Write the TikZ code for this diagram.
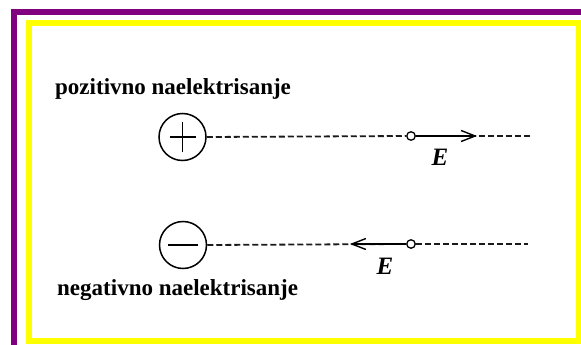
\documentclass[tikz,border=0pt]{standalone}
\usepackage{fontspec}
\setmainfont{Liberation Serif}
\usetikzlibrary{arrows.meta}
\definecolor{framepurple}{HTML}{800080}
\definecolor{frameyellow}{HTML}{FFFF00}
\definecolor{ink}{HTML}{1A1A1A}
\begin{document}
\begin{tikzpicture}[x=1pt,y=-1pt,
  label/.style={font=\fontsize{23}{26}\selectfont\bfseries, inner sep=0pt},
  field/.style={draw=ink, line width=1.8pt, dash pattern=on 6pt off 3pt},
  charge/.style={circle, draw, line width=1.5pt, minimum size=47pt, inner sep=0pt},
  probe/.style={circle, draw, line width=1.3pt, fill=white, minimum size=8.5pt, inner sep=0pt},
  vec/.style={line width=2.2pt, -{Straight Barb[length=14pt,width=11pt,line width=1.4pt]}},
  elabel/.style={font=\fontsize{25}{27}\selectfont\bfseries\itshape, inner sep=0pt}
]
\useasboundingbox (0,0) rectangle (581,345);
% frames
\draw[framepurple, line width=6pt] (14,12) rectangle (620,380);
\draw[frameyellow, line width=6pt] (29,23) rectangle (579,340.5);
% labels
\node[label, anchor=base west] (pos) at (55,94) {pozitivno naelektrisanje};
\node[label, anchor=base west] (neg) at (57,295) {negativno naelektrisanje};
% positive charge
\node[charge] (cp) at (182.5,137) {};
\draw[line width=1.6pt] ([xshift=-13pt]cp.center) -- ([xshift=13pt]cp.center);
\draw[line width=1.6pt] ([yshift=-15pt]cp.center) -- ([yshift=15pt]cp.center);
\coordinate (ep) at (530,136);
\node[probe] (pp) at (411,136) {};
\coordinate (tp) at (477,136);
\draw[field] (cp.east) -- (pp.west);
\draw[field] (pp.east) -- (ep);
\draw[vec] (pp.east) -- (tp);
\node[elabel] (Ep) at (440,157) {E};
% negative charge
\node[charge] (cn) at (183,245) {};
\draw[line width=2pt] ([xshift=-15pt]cn.center) -- ([xshift=15pt]cn.center);
\coordinate (en) at (528,244);
\node[probe] (pn) at (411,244) {};
\coordinate (tn) at (350,244);
\draw[field] (cn.east) -- (pn.west);
\draw[field] (pn.east) -- (en);
\draw[vec] (pn.west) -- (tn);
\node[elabel] (En) at (385,266) {E};
\end{tikzpicture}
\end{document}
